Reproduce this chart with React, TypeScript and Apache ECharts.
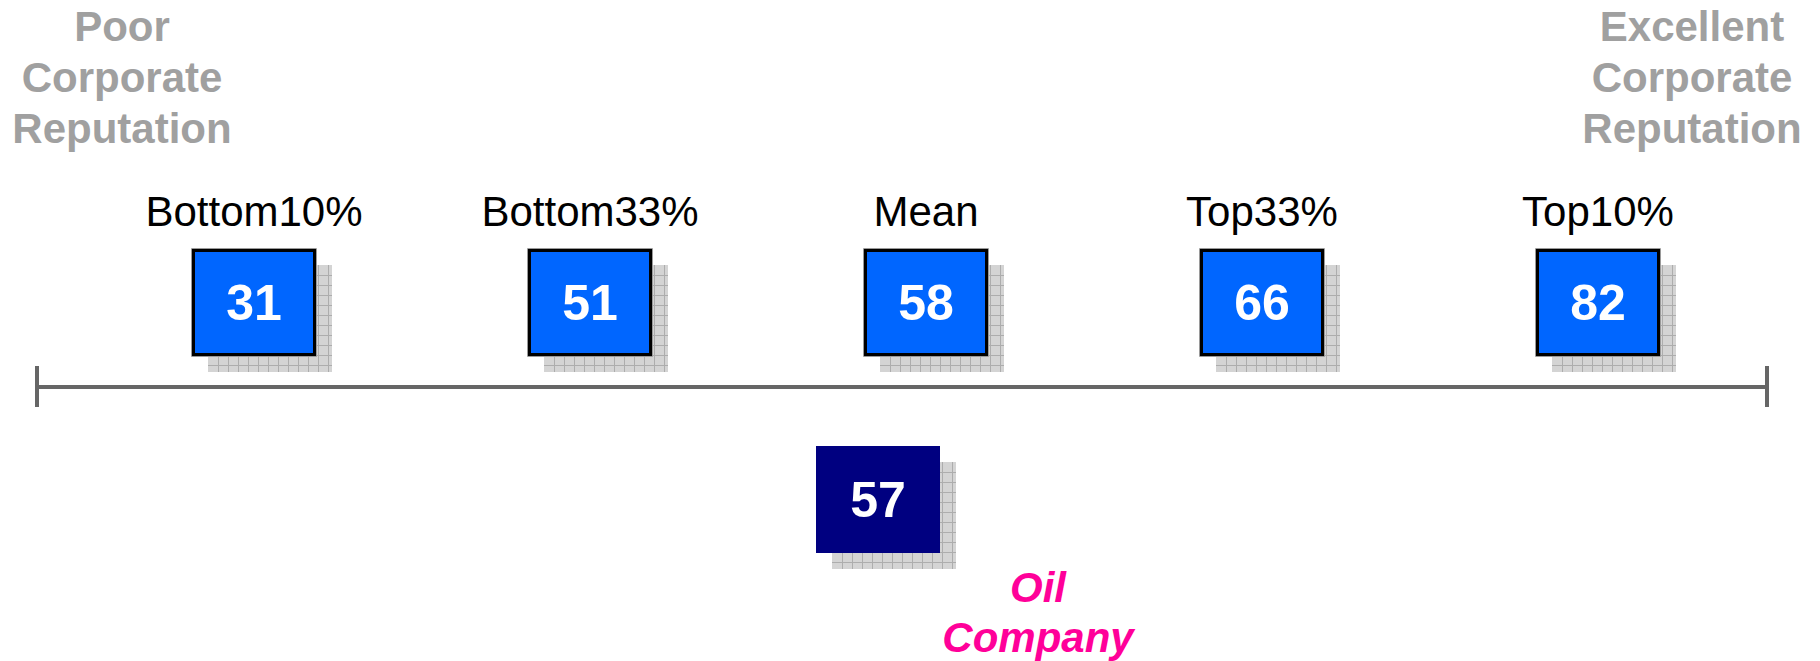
import React, { useEffect, useRef } from "react";
import * as echarts from "echarts";

// ---- data ----
const categories = ["Bottom10%", "Bottom33%", "Mean", "Top33%", "Top10%"];
const benchmarkValues = [31, 51, 58, 66, 82];
const companyLabel = "Oil\nCompany";
const companyValue = 57;
const leftTitle = "Poor\nCorporate\nReputation";
const rightTitle = "Excellent\nCorporate\nReputation";
const rowNames = ["Benchmarks", "Company"];

// ---- styles ----
const FONT = "'Liberation Sans', Arial, Helvetica, sans-serif";
const BOX_W = 124;
const BOX_H = 107;
const SHADOW = 16;
const CELL = 10;
const BLUE = "#0066FF";
const NAVY = "#000080";
const MAGENTA = "#FF0099";
const GREY_TEXT = "#A0A0A0";
const LINE = "#666666";

// position of the company on the benchmark scale, interpolated between neighbouring benchmarks
function interpIndex(v: number): number {
  for (let i = 0; i < benchmarkValues.length - 1; i++) {
    const a = benchmarkValues[i];
    const b = benchmarkValues[i + 1];
    if (v >= a && v <= b) return i + (v - a) / (b - a);
  }
  return v < benchmarkValues[0] ? 0 : benchmarkValues.length - 1;
}

export default function App() {
  const ref = useRef<HTMLDivElement>(null);

  useEffect(() => {
    document.body.style.margin = "0";
    if (!ref.current) return;
    const chart = echarts.init(ref.current, null, { renderer: "svg" });

    const data: number[][] = benchmarkValues.map((v, i) => [i, 0, v, 0]);
    data.push([interpIndex(companyValue), 1, companyValue, 1]);

    const renderItem = (params: any, api: any) => {
      const kind = api.value(3);
      const value = api.value(2);
      const p = api.coord([api.value(0), api.value(1)]);
      const cx = p[0];
      const cy = p[1];
      const x = Math.round(cx - BOX_W / 2);
      const y = Math.round(cy - BOX_H / 2);
      const children: any[] = [];
      const sx = x + SHADOW;
      const sy = y + SHADOW;
      children.push({
        type: "rect",
        shape: { x: sx, y: sy, width: BOX_W, height: BOX_H },
        style: { fill: "#d4d4d4" },
      });
      for (let gx = sx + CELL; gx < sx + BOX_W; gx += CELL) {
        children.push({
          type: "line",
          shape: { x1: gx + 0.5, y1: sy, x2: gx + 0.5, y2: sy + BOX_H },
          style: { stroke: "#adadad", lineWidth: 1 },
        });
      }
      for (let gy = sy + CELL; gy < sy + BOX_H; gy += CELL) {
        children.push({
          type: "line",
          shape: { x1: sx, y1: gy + 0.5, x2: sx + BOX_W, y2: gy + 0.5 },
          style: { stroke: "#adadad", lineWidth: 1 },
        });
      }
      if (kind === 0) {
        children.push({
          type: "rect",
          shape: { x: x - 0.5, y: y - 0.5, width: BOX_W + 1, height: BOX_H + 1 },
          style: { fill: "none", stroke: "#9a9a9a", lineWidth: 1 },
        });
        children.push({
          type: "rect",
          shape: { x: x + 1.5, y: y + 1.5, width: BOX_W - 3, height: BOX_H - 3 },
          style: { fill: BLUE, stroke: "#000000", lineWidth: 3 },
        });
        children.push({
          type: "text",
          style: {
            text: categories[params.dataIndex],
            x: cx,
            y: cy - 91,
            fill: "#000000",
            font: `normal 42px ${FONT}`,
            align: "center",
            verticalAlign: "middle",
          },
        });
      } else {
        children.push({
          type: "rect",
          shape: { x, y, width: BOX_W, height: BOX_H },
          style: { fill: NAVY },
        });
        children.push({
          type: "text",
          style: {
            text: companyLabel,
            x: cx + 160,
            y: cy + 113,
            fill: MAGENTA,
            font: `italic bold 42px ${FONT}`,
            lineHeight: 50,
            align: "center",
            verticalAlign: "middle",
          },
        });
      }
      children.push({
        type: "text",
        style: {
          text: String(value),
          x: cx,
          y: cy + 1,
          fill: "#ffffff",
          font: `bold 50px ${FONT}`,
          align: "center",
          verticalAlign: "middle",
        },
      });
      return { type: "group", children };
    };

    const option: any = {
      animation: false,
      backgroundColor: "#ffffff",
      grid: { left: 86, right: 54, top: 203.5, bottom: 63.5 },
      xAxis: {
        type: "value",
        min: -0.5,
        max: categories.length - 0.5,
        show: false,
      },
      yAxis: {
        type: "value",
        min: -0.5,
        max: rowNames.length - 0.5,
        inverse: true,
        show: false,
      },
      graphic: [
        {
          type: "line",
          shape: { x1: 37, y1: 387, x2: 1767, y2: 387 },
          style: { stroke: LINE, lineWidth: 4 },
        },
        {
          type: "line",
          shape: { x1: 37, y1: 366, x2: 37, y2: 407 },
          style: { stroke: LINE, lineWidth: 4 },
        },
        {
          type: "line",
          shape: { x1: 1767, y1: 366, x2: 1767, y2: 407 },
          style: { stroke: LINE, lineWidth: 4 },
        },
        {
          type: "text",
          x: 122,
          y: 77,
          style: {
            text: leftTitle,
            fill: GREY_TEXT,
            font: `bold 42px ${FONT}`,
            lineHeight: 51,
            align: "center",
            verticalAlign: "middle",
          },
        },
        {
          type: "text",
          x: 1692,
          y: 77,
          style: {
            text: rightTitle,
            fill: GREY_TEXT,
            font: `bold 42px ${FONT}`,
            lineHeight: 51,
            align: "center",
            verticalAlign: "middle",
          },
        },
      ],
      series: [
        {
          type: "custom",
          renderItem,
          data,
          encode: { x: 0, y: 1 },
          clip: false,
          silent: true,
        },
      ],
    };
    chart.setOption(option);
    return () => chart.dispose();
  }, []);

  return <div ref={ref} style={{ width: 1820, height: 661 }} />;
}
